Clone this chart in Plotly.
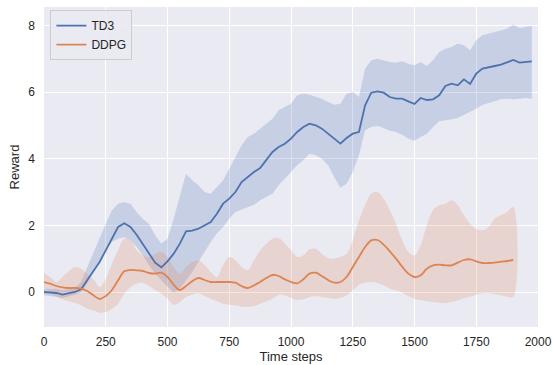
import plotly.graph_objects as go

# Evaluation checkpoints (time steps)
steps_td3 = list(range(0, 2000, 25))
steps_ddpg = list(range(0, 1925, 25))

# TD3: mean reward and confidence band
td3_mean = [0.00, -0.02, -0.03, -0.08, -0.03, 0.00, 0.08, 0.35, 0.62, 0.90,
            1.25, 1.60, 1.95, 2.06, 1.95, 1.72, 1.45, 1.15, 0.88, 0.74,
            0.92, 1.15, 1.45, 1.82, 1.84, 1.90, 2.00, 2.10, 2.35, 2.65,
            2.80, 3.00, 3.30, 3.45, 3.60, 3.72, 3.95, 4.20, 4.35, 4.45,
            4.60, 4.80, 4.95, 5.05, 5.00, 4.90, 4.75, 4.60, 4.45, 4.62,
            4.75, 4.80, 5.60, 5.98, 6.02, 5.98, 5.85, 5.80, 5.80, 5.72,
            5.64, 5.82, 5.76, 5.78, 5.90, 6.18, 6.25, 6.20, 6.38, 6.24,
            6.55, 6.70, 6.75, 6.78, 6.82, 6.88, 6.96, 6.88, 6.90, 6.92]
td3_upper = [0.10, 0.08, 0.10, 0.05, 0.08, 0.12, 0.30, 0.75, 1.15, 1.60,
             2.05, 2.45, 2.65, 2.70, 2.65, 2.40, 2.20, 2.05, 1.70, 1.45,
             1.60, 2.20, 2.85, 3.55, 3.35, 3.20, 3.00, 2.95, 3.15, 3.35,
             3.70, 4.05, 4.40, 4.65, 4.75, 4.90, 5.05, 5.20, 5.45, 5.55,
             5.65, 5.90, 5.95, 5.92, 5.85, 5.80, 5.70, 5.62, 5.65, 5.95,
             6.00, 5.85, 6.70, 6.95, 7.00, 6.95, 6.90, 6.88, 6.92, 6.85,
             6.80, 6.90, 6.78, 6.95, 7.20, 7.30, 7.35, 7.45, 7.40, 7.25,
             7.55, 7.70, 7.75, 7.80, 7.85, 7.90, 8.02, 7.92, 7.95, 7.98]
td3_lower = [-0.10, -0.12, -0.14, -0.18, -0.12, -0.08, 0.00, 0.25, 0.65, 0.95,
             1.25, 1.50, 1.60, 1.64, 1.55, 1.35, 1.10, 0.80, 0.55, 0.35,
             0.15, -0.02, 0.10, 0.35, 0.60, 0.90, 1.20, 1.50, 1.76, 1.95,
             2.20, 2.40, 2.48, 2.55, 2.62, 2.75, 2.85, 2.95, 3.20, 3.40,
             3.60, 3.80, 3.95, 4.15, 4.10, 4.00, 3.80, 3.45, 3.13, 3.25,
             3.60, 4.10, 4.85, 4.95, 4.98, 4.92, 4.84, 4.80, 4.72, 4.60,
             4.54, 4.65, 4.75, 4.95, 5.12, 5.15, 5.18, 5.22, 5.30, 5.40,
             5.50, 5.62, 5.68, 5.72, 5.78, 5.80, 5.78, 5.80, 5.82, 5.80]

# DDPG: mean reward and confidence band
ddpg_mean = [0.30, 0.25, 0.18, 0.14, 0.12, 0.12, 0.10, 0.03, -0.10, -0.21,
             -0.12, 0.06, 0.35, 0.62, 0.66, 0.65, 0.63, 0.57, 0.55, 0.58,
             0.45, 0.22, 0.06, 0.18, 0.32, 0.42, 0.36, 0.30, 0.30, 0.30,
             0.30, 0.28, 0.18, 0.12, 0.20, 0.30, 0.42, 0.51, 0.48, 0.38,
             0.30, 0.26, 0.38, 0.55, 0.58, 0.48, 0.36, 0.28, 0.30, 0.45,
             0.75, 1.05, 1.35, 1.55, 1.56, 1.42, 1.22, 1.00, 0.76, 0.55,
             0.45, 0.50, 0.70, 0.80, 0.82, 0.80, 0.80, 0.88, 0.96, 0.98,
             0.92, 0.87, 0.87, 0.88, 0.91, 0.93, 0.96]
ddpg_upper = [0.57, 0.45, 0.30, 0.45, 0.62, 0.75, 0.70, 0.55, 0.38, 0.15,
              0.40, 0.85, 1.25, 1.60, 1.55, 1.25, 1.10, 1.04, 1.15, 1.20,
              1.05, 0.75, 0.55, 0.75, 0.90, 0.95, 0.80, 0.60, 0.45, 0.80,
              1.05, 0.95, 0.75, 0.66, 0.95, 1.25, 1.45, 1.60, 1.62, 1.45,
              1.25, 1.05, 1.10, 1.28, 1.30, 1.15, 1.02, 1.00, 1.05, 1.15,
              1.55, 2.15, 2.60, 2.95, 3.00, 2.80, 2.45, 2.05, 1.55, 1.20,
              1.10, 1.40, 2.00, 2.45, 2.60, 2.65, 2.75, 2.60, 2.30, 2.05,
              1.90, 1.85, 1.95, 2.20, 2.30, 2.40, 2.55]
ddpg_lower = [0.12, 0.00, -0.15, -0.22, -0.28, -0.33, -0.40, -0.50, -0.55, -0.62,
              -0.60, -0.50, -0.35, -0.05, 0.15, 0.25, 0.27, 0.18, 0.06, -0.05,
              -0.20, -0.38, -0.30, -0.15, -0.08, -0.03, -0.12, -0.20, -0.28, -0.35,
              -0.38, -0.40, -0.44, -0.45, -0.42, -0.35, -0.28, -0.20, -0.08, -0.10,
              -0.18, -0.24, -0.22, -0.15, -0.12, -0.15, -0.18, -0.20, -0.18, -0.10,
              0.05, 0.22, 0.28, 0.30, 0.27, 0.20, 0.10, 0.05, -0.02, -0.12,
              -0.20, -0.25, -0.28, -0.30, -0.32, -0.33, -0.30, -0.25, -0.18, -0.14,
              -0.08, -0.04, -0.03, -0.06, -0.10, -0.14, -0.15]

x_ticks = [0, 250, 500, 750, 1000, 1250, 1500, 1750, 2000]
y_ticks = [0, 2, 4, 6, 8]

BLUE = "#4C72B0"
ORANGE = "#DD8452"


def band(x, lo, hi, fill, shape):
    return go.Scatter(
        x=list(x) + list(x)[::-1],
        y=list(hi) + list(lo)[::-1],
        fill="toself",
        fillcolor=fill,
        line=dict(width=0, shape=shape),
        mode="lines",
        hoverinfo="skip",
        showlegend=False,
    )


fig = go.Figure()
fig.add_trace(band(steps_td3, td3_lower, td3_upper, "rgba(76,114,176,0.22)", "linear"))
fig.add_trace(band(steps_ddpg, ddpg_lower, ddpg_upper, "rgba(221,132,82,0.22)", "spline"))
fig.add_trace(go.Scatter(x=steps_td3, y=td3_mean, mode="lines", name="TD3",
                         line=dict(color=BLUE, width=1.8)))
fig.add_trace(go.Scatter(x=steps_ddpg, y=ddpg_mean, mode="lines", name="DDPG",
                         line=dict(color=ORANGE, width=1.8, shape="spline")))

fig.update_layout(
    width=553, height=365,
    margin=dict(l=44, r=15, t=7, b=38),
    paper_bgcolor="white",
    plot_bgcolor="#EAEAF2",
    font=dict(family="Liberation Sans, Arial, sans-serif", size=12, color="#262626"),
    legend=dict(
        x=0.013, y=0.99, xanchor="left", yanchor="top",
        bgcolor="rgba(234,234,242,0.85)", bordercolor="#CCCCCC", borderwidth=1,
        font=dict(size=12), tracegroupgap=0,
    ),
    xaxis=dict(
        range=[0, 2000], tickvals=x_ticks, showgrid=True, gridcolor="white",
        gridwidth=1.2, zeroline=False, showline=False, ticks="",
        ticklabelstandoff=6, automargin=False,
        title=dict(text="Time steps", standoff=1, font=dict(size=13)),
    ),
    yaxis=dict(
        range=[-1.05, 8.55], tickvals=y_ticks, showgrid=True, gridcolor="white",
        gridwidth=1.2, zeroline=False, showline=False, ticks="",
        ticklabelstandoff=8, automargin=False,
        title=dict(text="Reward", standoff=5, font=dict(size=13)),
    ),
)

fig.write_html("out.html")
